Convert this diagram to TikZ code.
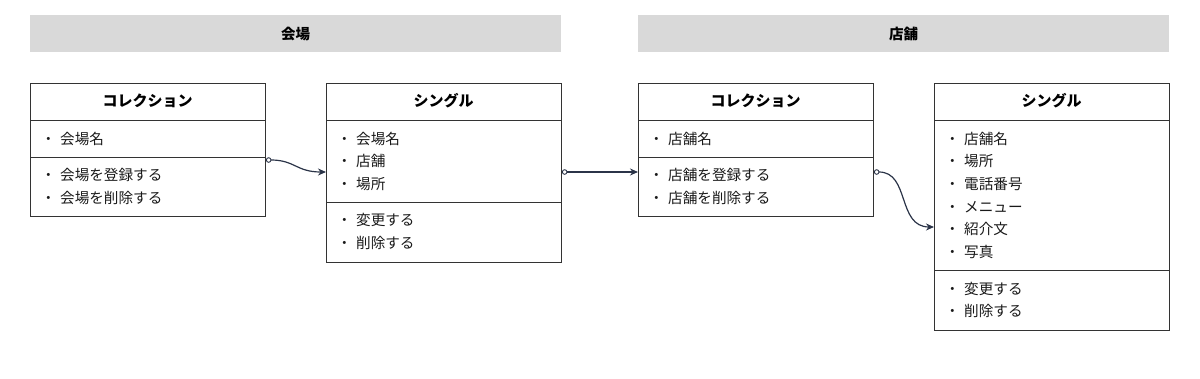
\documentclass[tikz,border=0pt]{standalone}
\usepackage{fontspec}
\setmainfont{Noto Sans CJK JP}
\usetikzlibrary{arrows.meta}
\definecolor{hdr}{HTML}{D9D9D9}
\definecolor{lin}{HTML}{333333}
\definecolor{arr}{HTML}{2B3448}
\newcommand{\itm}[1]{\makebox[19pt][l]{・}#1}
\tikzset{
  x=1pt,y=-1pt,
  hdrbox/.style={fill=hdr,draw=none,minimum width=531pt,minimum height=37pt,anchor=north west,inner sep=0,font=\bfseries\fontsize{14.5}{16}\selectfont},
  clsbox/.style={draw=lin,line width=0.9pt,minimum width=235pt,anchor=north west,inner sep=0},
  ttl/.style={font=\bfseries\fontsize{15}{17}\selectfont,inner sep=0},
  itmtxt/.style={anchor=west,inner sep=0,font=\fontsize{14.6}{17}\selectfont,text=black!90},
  divl/.style={draw=lin,line width=0.9pt},
  conn/.style={draw=arr,line width=1.2pt,{Circle[open,fill=white,length=5.5pt,width=5.5pt,line width=0.9pt]}-{Stealth[length=8pt,width=7pt]}}
}
\begin{document}
\begin{tikzpicture}
\useasboundingbox (0,0) rectangle (1200,378);
% headers
\node[hdrbox] (h1) at (30,15) {会場};
\node[hdrbox] (h2) at (638,15) {店舗};
% boxes
\node[clsbox,minimum height=133pt] (A) at (30,83) {};
\node[clsbox,minimum height=179pt] (B) at (326,83) {};
\node[clsbox,minimum height=133pt] (C) at (638,83) {};
\node[clsbox,minimum height=247pt] (D) at (934,83) {};
% dividers
\draw[divl] (30,120) -- (265,120);
\draw[divl] (30,157) -- (265,157);
\draw[divl] (326,120) -- (561,120);
\draw[divl] (326,202) -- (561,202);
\draw[divl] (638,120) -- (873,120);
\draw[divl] (638,157) -- (873,157);
\draw[divl] (934,120) -- (1169,120);
\draw[divl] (934,270) -- (1169,270);
% titles
\node[ttl] (At) at (147.5,101) {コレクション};
\node[ttl] (Bt) at (443.5,101) {シングル};
\node[ttl] (Ct) at (755.5,101) {コレクション};
\node[ttl] (Dt) at (1051.5,101) {シングル};
% box A items
\node[itmtxt] (A1) at (41,139) {\itm{会場名}};
\node[itmtxt] (A2) at (41,175) {\itm{会場を登録する}};
\node[itmtxt] (A3) at (41,198) {\itm{会場を削除する}};
% box B items
\node[itmtxt] (B1) at (337,139) {\itm{会場名}};
\node[itmtxt] (B2) at (337,161) {\itm{店舗}};
\node[itmtxt] (B3) at (337,184) {\itm{場所}};
\node[itmtxt] (B4) at (337,220) {\itm{変更する}};
\node[itmtxt] (B5) at (337,243) {\itm{削除する}};
% box C items
\node[itmtxt] (C1) at (649,139) {\itm{店舗名}};
\node[itmtxt] (C2) at (649,175) {\itm{店舗を登録する}};
\node[itmtxt] (C3) at (649,198) {\itm{店舗を削除する}};
% box D items
\node[itmtxt] (D1) at (945,139) {\itm{店舗名}};
\node[itmtxt] (D2) at (945,161) {\itm{場所}};
\node[itmtxt] (D3) at (945,184) {\itm{電話番号}};
\node[itmtxt] (D4) at (945,207) {\itm{メニュー}};
\node[itmtxt] (D5) at (945,229) {\itm{紹介文}};
\node[itmtxt] (D6) at (945,252) {\itm{写真}};
\node[itmtxt] (D7) at (945,289) {\itm{変更する}};
\node[itmtxt] (D8) at (945,311) {\itm{削除する}};
% connector ends
\coordinate (aOut) at (A.east |- 0,160);
\coordinate (bIn) at (B.west |- 0,172);
\coordinate (bOut) at (B.east |- 0,172);
\coordinate (cIn) at (C.west |- 0,172);
\coordinate (cOut) at (C.east |- 0,172);
\coordinate (dIn) at (D.west |- 0,227);
\draw[conn] (aOut) .. controls (295,160) and (296,172) .. (bIn);
\draw[conn] (bOut) -- (cIn);
\draw[conn] (cOut) .. controls (910,172) and (897,227) .. (dIn);
\end{tikzpicture}
\end{document}
